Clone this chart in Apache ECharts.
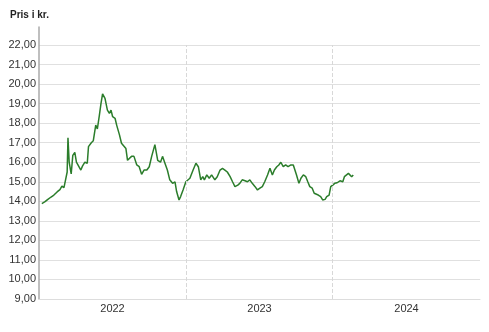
<!DOCTYPE html>
<html><head><meta charset="utf-8">
<script src="https://cdn.jsdelivr.net/npm/echarts@6/dist/echarts.min.js"></script>
<style>html,body{margin:0;padding:0;background:#fff}#c{width:489px;height:332px}</style>
</head><body><div id="c"></div>
<script>
const dates = ['2022-01-08','2022-01-16','2022-01-23','2022-01-31','2022-02-07','2022-02-15','2022-02-22','2022-02-27','2022-03-04','2022-03-08','2022-03-12','2022-03-14','2022-03-17','2022-03-20','2022-03-22','2022-03-26','2022-03-31','2022-04-04','2022-04-08','2022-04-15','2022-04-19','2022-04-25','2022-05-01','2022-05-04','2022-05-11','2022-05-16','2022-05-22','2022-05-26','2022-05-31','2022-06-04','2022-06-08','2022-06-14','2022-06-20','2022-06-25','2022-06-29','2022-07-03','2022-07-09','2022-07-13','2022-07-20','2022-07-25','2022-07-29','2022-08-05','2022-08-09','2022-08-13','2022-08-19','2022-08-25','2022-09-01','2022-09-07','2022-09-13','2022-09-19','2022-09-26','2022-10-02','2022-10-08','2022-10-16','2022-10-23','2022-10-30','2022-11-04','2022-11-10','2022-11-16','2022-11-22','2022-11-29','2022-12-05','2022-12-09','2022-12-15','2022-12-19','2022-12-25','2023-01-01','2023-01-05','2023-01-11','2023-01-19','2023-01-26','2023-02-01','2023-02-07','2023-02-12','2023-02-16','2023-02-22','2023-02-28','2023-03-06','2023-03-14','2023-03-20','2023-03-27','2023-04-02','2023-04-08','2023-04-14','2023-04-21','2023-04-27','2023-05-03','2023-05-10','2023-05-15','2023-05-21','2023-05-28','2023-06-03','2023-06-09','2023-06-15','2023-06-22','2023-06-28','2023-07-04','2023-07-10','2023-07-16','2023-07-23','2023-07-29','2023-08-04','2023-08-09','2023-08-15','2023-08-20','2023-08-25','2023-08-31','2023-09-06','2023-09-12','2023-09-19','2023-09-25','2023-09-29','2023-10-03','2023-10-09','2023-10-14','2023-10-20','2023-10-26','2023-10-31','2023-11-05','2023-11-11','2023-11-16','2023-11-20','2023-11-26','2023-12-02','2023-12-07','2023-12-13','2023-12-17','2023-12-23','2023-12-27','2024-01-01','2024-01-06','2024-01-12','2024-01-19','2024-01-26','2024-01-30','2024-02-03','2024-02-09','2024-02-13','2024-02-17','2024-02-21'];
const prices = [13.88,13.98,14.1,14.22,14.32,14.48,14.6,14.78,14.7,15.1,15.5,17.25,16.0,15.95,15.4,16.35,16.5,16.0,16.05,15.6,15.8,16.0,15.95,16.8,17.0,17.1,17.9,17.7,18.4,19.0,19.5,19.27,18.67,18.5,18.67,18.33,18.25,17.9,17.4,16.97,17.05,16.7,16.1,16.0,16.3,16.3,15.86,15.77,15.38,15.6,15.6,15.77,16.3,16.9,16.1,16.0,16.3,15.95,15.6,15.1,14.92,15.0,14.5,14.07,14.24,14.58,15.0,14.92,15.18,15.6,15.95,15.77,15.1,15.26,15.1,15.35,15.18,15.35,15.1,15.26,15.6,15.69,15.6,15.5,15.26,15.0,14.75,14.83,14.92,15.1,15.05,15.0,15.1,14.92,14.75,14.58,14.67,14.75,15.0,15.35,15.69,15.35,15.6,15.77,15.86,16.0,15.77,15.86,15.77,15.86,15.86,15.77,15.35,14.92,15.18,15.35,15.26,15.0,14.75,14.67,14.41,14.41,14.32,14.24,14.07,14.1,14.24,14.32,14.75,14.83,14.92,14.95,15.05,15.0,15.26,15.18,15.43,15.4,15.26,15.35];
const years = ['2022','2023','2024'];
const yearBounds = ['2023-01-01','2024-01-01'];
const yMin = 9, yMax = 22;

const font = 'Liberation Sans, Arial, sans-serif';
const chart = echarts.init(document.getElementById('c'), null, {renderer:'canvas'});
chart.setOption({
  animation:false,
  title:{text:'Pris i kr.',left:5,top:5,textStyle:{fontFamily:font,fontSize:10,fontWeight:'bold',color:'#222'}},
  grid:[
    {left:39,right:9,top:45,bottom:33},
    {left:39,right:9,top:27,bottom:33}
  ],
  xAxis:[
    {type:'time',gridIndex:0,min:'2022-01-01',max:'2025-01-01',axisLine:{show:true,lineStyle:{color:'#ddd'}},axisTick:{show:false},axisLabel:{show:false},splitLine:{show:false}},
    {type:'category',gridIndex:0,data:years,position:'bottom',boundaryGap:true,axisLine:{show:false},axisTick:{show:false},splitLine:{show:false},axisLabel:{margin:4,fontFamily:font,fontSize:11,color:'#333'}},
    {type:'value',gridIndex:1,show:false}
  ],
  yAxis:[
    {type:'value',gridIndex:0,min:yMin,max:yMax,interval:1,axisLine:{show:false},axisTick:{show:false},
     axisLabel:{margin:3,fontFamily:font,fontSize:11,color:'#333',formatter:v=>v.toFixed(2).replace('.',',')},
     splitLine:{lineStyle:{color:'#e0e0e0',width:1}}},
    {type:'value',gridIndex:1,min:0,max:1,axisLine:{show:true,lineStyle:{color:'#aaa',width:1.5}},axisTick:{show:false},axisLabel:{show:false},splitLine:{show:false}}
  ],
  series:[{
    type:'line',xAxisIndex:0,yAxisIndex:0,showSymbol:false,
    data:dates.map((d,i)=>[d,prices[i]]),
    lineStyle:{color:'#2b7d2b',width:1.5},
    markLine:{silent:true,symbol:'none',label:{show:false},
      lineStyle:{color:'#d8d8d8',type:'dashed',width:1},
      data:yearBounds.map(d=>({xAxis:d}))}
  }]
});
</script></body></html>
